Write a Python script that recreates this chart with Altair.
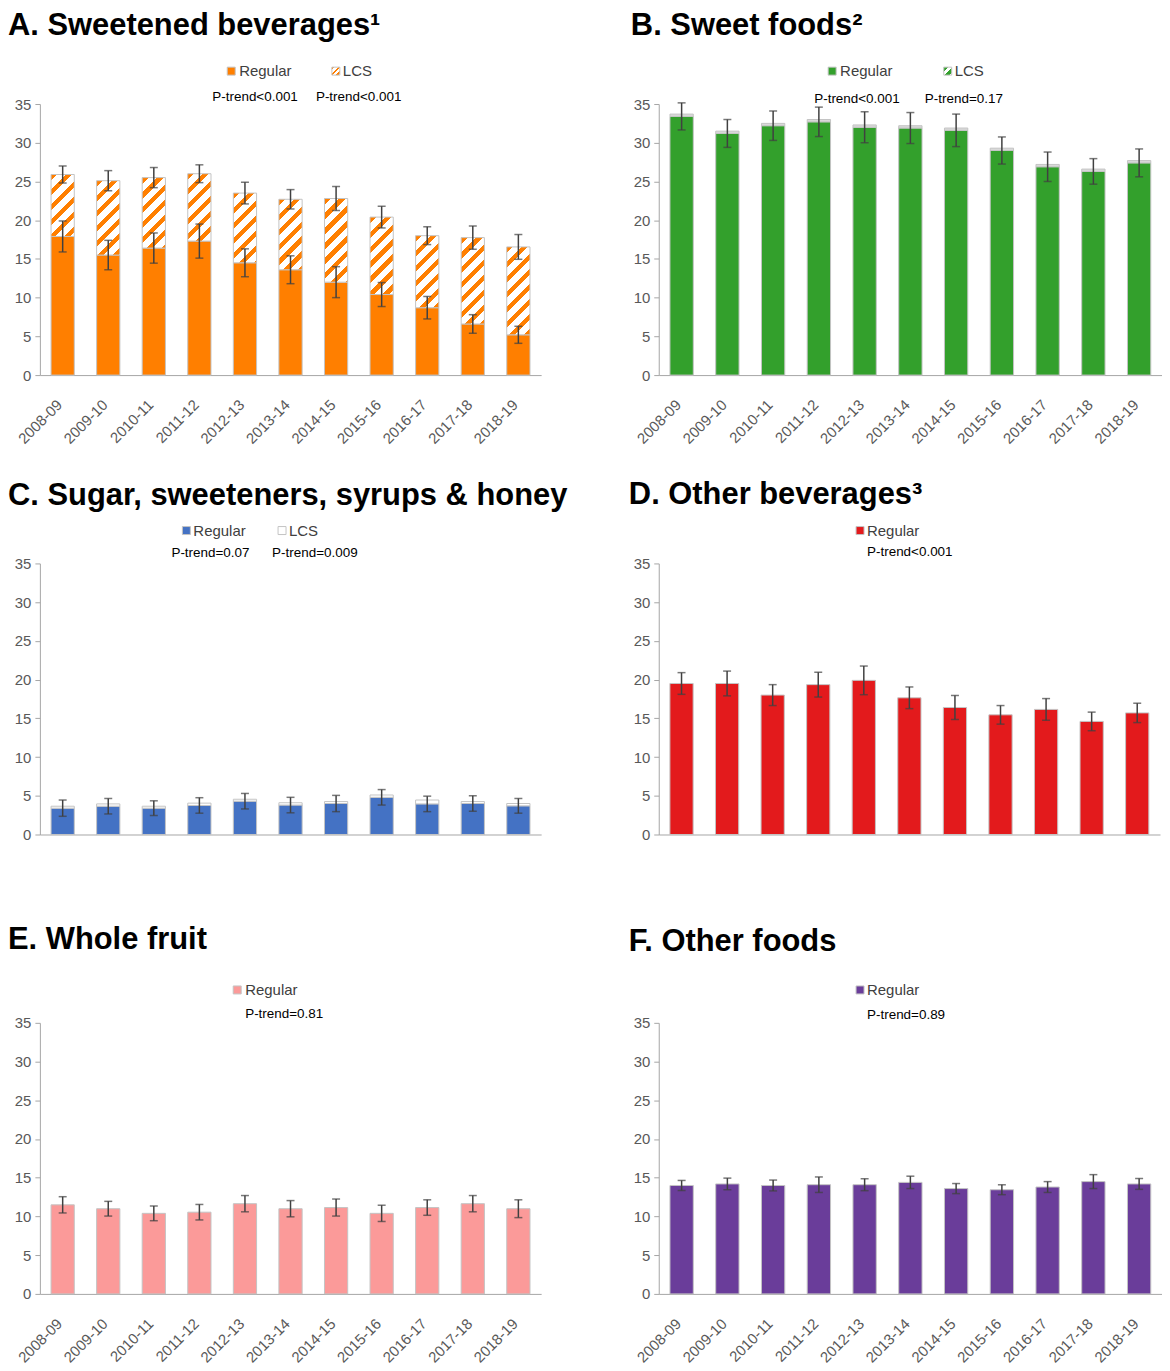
import altair as alt
import pandas as pd

years = ["2008-09", "2009-10", "2010-11", "2011-12", "2012-13", "2013-14",
         "2014-15", "2015-16", "2016-17", "2017-18", "2018-19"]

# A. Sweetened beverages
A_regular = [17.9, 15.5, 16.4, 17.3, 14.5, 13.6, 12.0, 10.4, 8.7, 6.6, 5.2]
A_regular_se = [2.0, 1.9, 1.95, 2.2, 1.8, 1.8, 2.0, 1.55, 1.45, 1.2, 1.1]
A_lcs = [8.0, 9.6, 9.1, 8.7, 9.0, 9.1, 10.8, 10.0, 9.3, 11.15, 11.35]
A_lcs_se = [1.1, 1.3, 1.3, 1.15, 1.4, 1.25, 1.55, 1.4, 1.15, 1.5, 1.6]

# B. Sweet foods
B_regular = [33.4, 31.2, 32.2, 32.7, 32.0, 31.9, 31.6, 29.0, 26.9, 26.3, 27.4]
B_regular_se = [1.75, 1.8, 1.9, 1.9, 2.0, 2.0, 2.1, 1.75, 1.9, 1.65, 1.8]
B_lcs = [0.3, 0.3, 0.3, 0.3, 0.3, 0.3, 0.3, 0.3, 0.3, 0.3, 0.3]

# C. Sugar, sweeteners, syrups & honey
C_regular = [3.4, 3.65, 3.4, 3.75, 4.3, 3.8, 4.0, 4.8, 3.95, 4.0, 3.7]
C_regular_se = [1.05, 1.0, 0.95, 1.0, 1.0, 1.0, 1.05, 1.0, 1.0, 1.0, 0.95]
C_lcs = [0.25, 0.3, 0.25, 0.3, 0.25, 0.3, 0.25, 0.3, 0.5, 0.25, 0.3]

# D. Other beverages
D_regular = [19.5, 19.5, 18.0, 19.35, 19.9, 17.65, 16.4, 15.45, 16.15, 14.6, 15.7]
D_regular_se = [1.4, 1.6, 1.35, 1.6, 1.85, 1.4, 1.55, 1.2, 1.4, 1.2, 1.25]

# E. Whole fruit
E_regular = [11.5, 11.0, 10.4, 10.55, 11.65, 11.0, 11.15, 10.4, 11.15, 11.65, 11.0]
E_regular_se = [1.05, 0.95, 0.95, 1.0, 1.05, 1.05, 1.1, 1.05, 1.0, 1.05, 1.15]

# F. Other foods
F_regular = [14.0, 14.2, 14.0, 14.1, 14.1, 14.4, 13.6, 13.45, 13.8, 14.5, 14.2]
F_regular_se = [0.65, 0.75, 0.7, 1.0, 0.77, 0.8, 0.65, 0.64, 0.7, 0.9, 0.7]

titles = {
    "A": "A. Sweetened beverages\u00b9",
    "B": "B. Sweet foods\u00b2",
    "C": "C. Sugar, sweeteners, syrups & honey",
    "D": "D. Other beverages\u00b3",
    "E": "E. Whole fruit",
    "F": "F. Other foods",
}
ptrends = {
    "A": ["P-trend<0.001", "P-trend<0.001"],
    "B": ["P-trend<0.001", "P-trend=0.17"],
    "C": ["P-trend=0.07", "P-trend=0.009"],
    "D": ["P-trend<0.001"],
    "E": ["P-trend=0.81"],
    "F": ["P-trend=0.89"],
}
legend_labels = ["Regular", "LCS"]

colors = {"A": "#ff7f00", "B": "#33a02c", "C": "#4472c4",
          "D": "#e31a1c", "E": "#fb9a99", "F": "#6a3d9a"}

FONT = "Liberation Sans"
H = 272
PAD_INNER = 0.49
BAR_STROKE = "#c4c4c4"
ERR_COLOR = "#404040"

# layout of annotation text (pixels relative to each plot area)
layout = {
    "A": dict(w=503, title=(-32, -69), leg=[(192, 200), (297, 304)], pt=[173, 277], pty=-3),
    "B": dict(w=505, title=(-28, -69), leg=[(174, 182), (290, 297)], pt=[156, 267], pty=-1),
    "C": dict(w=503, title=(-32, -59), leg=[(147, 154), (243, 250)], pt=[132, 233], pty=-6),
    "D": dict(w=503, title=(-30, -60), leg=[(202, 209)], pt=[209], pty=-7),
    "E": dict(w=503, title=(-32, -74), leg=[(198, 206)], pt=[206], pty=-5),
    "F": dict(w=505, title=(-30, -72), leg=[(202, 209)], pt=[209], pty=-4),
}


def hatch(color, w, h, period=15.0, frac=0.42):
    L = w + h
    k = L / (w * w + h * h)
    pt = period / L
    stops = []
    a = 0.0
    while a < 1.0:
        b = min(a + frac * pt, 1.0)
        c = min(a + pt, 1.0)
        stops += [{"offset": a, "color": color}, {"offset": b, "color": color},
                  {"offset": b, "color": "#ffffff"}, {"offset": c, "color": "#ffffff"}]
        a += pt
    return {"gradient": "linear", "x1": 0, "y1": 0, "x2": k * w, "y2": k * h, "stops": stops}


def xenc(show_labels):
    return alt.X("year:N", sort=years,
                 scale=alt.Scale(paddingInner=PAD_INNER, paddingOuter=PAD_INNER / 2),
                 axis=alt.Axis(title=None, labelAngle=-45, ticks=False, domainColor="#a6a6a6",
                               labelFontSize=15, labelColor="#595959", labelFont=FONT,
                               labelAlign="right", labelBaseline="top", labelPadding=22,
                               labelOffset=-8, labels=show_labels))


def yenc(field):
    return alt.Y(field, scale=alt.Scale(domain=[0, 35], nice=False),
                 axis=alt.Axis(title=None, values=list(range(0, 36, 5)), grid=False,
                               domainColor="#a6a6a6", tickColor="#a6a6a6", tickSize=5,
                               labelFontSize=15, labelColor="#595959", labelFont=FONT,
                               labelPadding=4))


def errbars(df, lo, hi, show_x):
    rule = alt.Chart(df).mark_rule(color=ERR_COLOR, strokeWidth=1.5).encode(
        x=xenc(show_x), y=yenc(lo), y2=hi)
    t1 = alt.Chart(df).mark_tick(orient="horizontal", size=8, thickness=1.5, color=ERR_COLOR).encode(
        x=xenc(show_x), y=yenc(lo))
    t2 = alt.Chart(df).mark_tick(orient="horizontal", size=8, thickness=1.5, color=ERR_COLOR).encode(
        x=xenc(show_x), y=yenc(hi))
    return [rule, t1, t2]


def text_layer(txt, x, y, size, color, weight="normal"):
    return alt.Chart(pd.DataFrame({"t": [txt]})).mark_text(
        align="left", baseline="alphabetic", font=FONT, fontSize=size,
        fontWeight=weight, color=color).encode(x=alt.value(x), y=alt.value(y), text="t:N")


def panel(key, regular, regular_se, lcs=None, lcs_se=None, lcs_style=None, show_x=True):
    lay = layout[key]
    w = lay["w"]
    color = colors[key]
    df = pd.DataFrame({"year": years, "reg": regular, "se": regular_se})
    df["lo"] = df["reg"] - df["se"]
    df["hi"] = df["reg"] + df["se"]
    layers = [alt.Chart(df).mark_bar(fill=color, stroke=BAR_STROKE, strokeWidth=1).encode(
        x=xenc(show_x), y=yenc("reg:Q"))]
    if lcs is not None:
        dl = pd.DataFrame({"year": years, "reg": regular, "lcs": lcs})
        dl["tot"] = dl["reg"] + dl["lcs"]
        if lcs_style == "hatch":
            bw = (w / len(years)) * (1 - PAD_INNER)
            for i in range(len(years)):
                hpx = lcs[i] * H / 35.0
                one = dl.iloc[[i]]
                layers.append(alt.Chart(one).mark_bar(
                    fill=hatch(color, bw, hpx), stroke=BAR_STROKE, strokeWidth=1).encode(
                    x=xenc(show_x), y=yenc("tot:Q"), y2="reg:Q"))
        else:
            layers.append(alt.Chart(dl).mark_bar(fill=lcs_style, stroke=BAR_STROKE, strokeWidth=1).encode(
                x=xenc(show_x), y=yenc("tot:Q"), y2="reg:Q"))
    layers += errbars(df, "lo:Q", "hi:Q", show_x)
    if lcs_se is not None:
        de = pd.DataFrame({"year": years, "tot": [r + l for r, l in zip(regular, lcs)], "se": lcs_se})
        de["lo"] = de["tot"] - de["se"]
        de["hi"] = de["tot"] + de["se"]
        layers += errbars(de, "lo:Q", "hi:Q", show_x)

    # title
    tx, ty = lay["title"]
    layers.append(text_layer(titles[key], tx, ty, 31, "#000000", "bold"))
    # legend
    for j, (sx, lx) in enumerate(lay["leg"]):
        if j == 0:
            fill = color
        elif lcs_style == "hatch":
            fill = hatch(color, 8, 8, period=6, frac=0.45)
        elif key == "B":
            fill = hatch(color, 8, 8, period=9, frac=0.5)
        else:
            fill = "#ffffff"
        layers.append(alt.Chart(pd.DataFrame({"t": [legend_labels[j]]})).mark_square(
            size=64, fill=fill, stroke=BAR_STROKE, strokeWidth=1, opacity=1).encode(
            x=alt.value(sx), y=alt.value(-33)))
        layers.append(text_layer(legend_labels[j], lx, -28, 15, "#404040"))
    # p-trend
    for j, px in enumerate(lay["pt"]):
        layers.append(text_layer(ptrends[key][j], px, lay["pty"], 13.5, "#000000"))
    return alt.layer(*layers).properties(width=w, height=H)


pA = panel("A", A_regular, A_regular_se, A_lcs, A_lcs_se, "hatch", True)
pB = panel("B", B_regular, B_regular_se, B_lcs, None, "#d9d9d9", True)
pC = panel("C", C_regular, C_regular_se, C_lcs, None, "#ffffff", False)
pD = panel("D", D_regular, D_regular_se, None, None, None, False)
pE = panel("E", E_regular, E_regular_se, None, None, None, True)
pF = panel("F", F_regular, F_regular_se, None, None, None, True)

chart = alt.concat(
    pA, pB, pC, pD, pE, pF, columns=2,
    spacing={"row": 189, "column": 118}, bounds="flush"
).properties(padding={"top": 0, "left": 0, "right": 0, "bottom": 0},
             background="#ffffff").configure_view(stroke=None)

chart.save("out.html", embed_options={"renderer": "svg", "actions": False})
